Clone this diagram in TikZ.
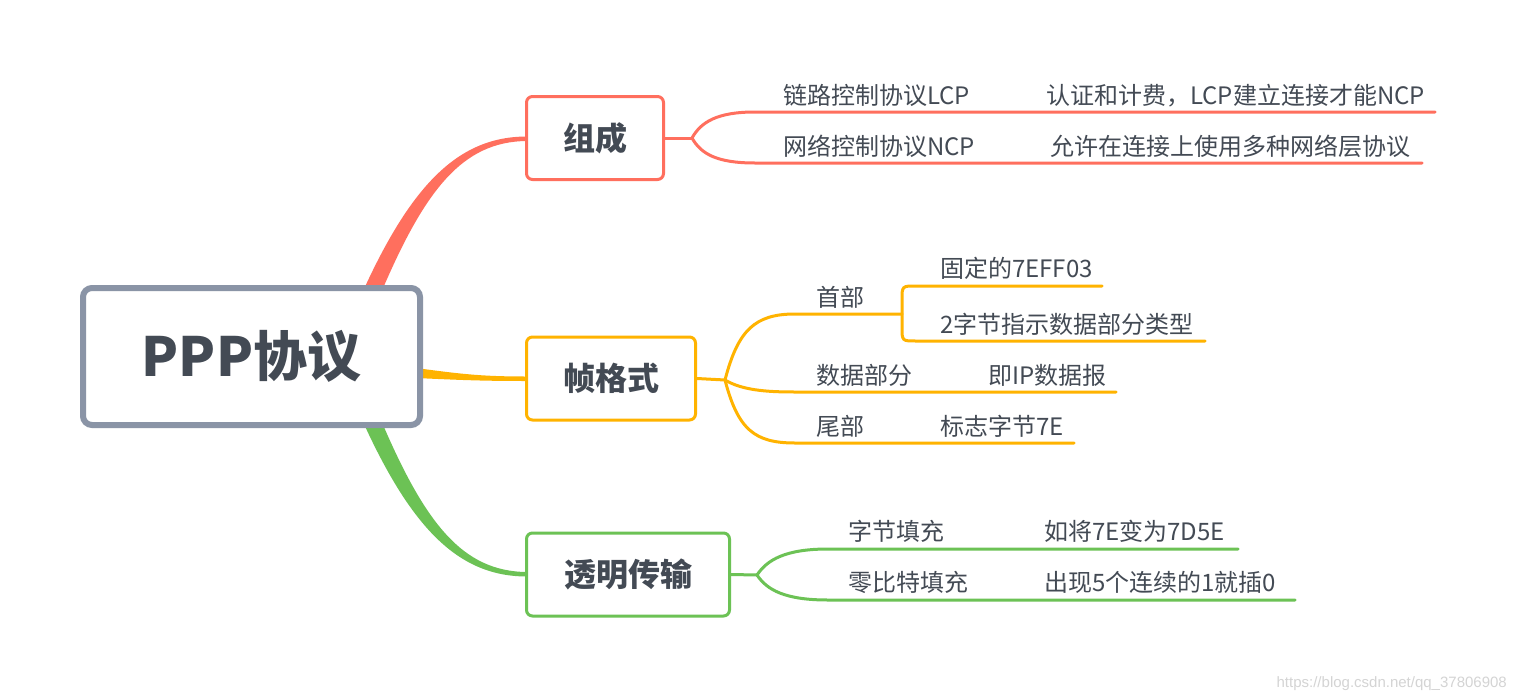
\documentclass[tikz,border=0pt]{standalone}
\usepackage{fontspec}
\setmainfont{Liberation Sans}
\newfontfamily\cjk{Noto Sans CJK SC}
\definecolor{redc}{HTML}{FF6F5E}
\definecolor{orac}{HTML}{FFB300}
\definecolor{grec}{HTML}{6CC255}
\definecolor{grayc}{HTML}{8A94A6}
\definecolor{textc}{HTML}{434A54}
\definecolor{wmc}{HTML}{D4D4D4}
\begin{document}
\begin{tikzpicture}[x=1pt,y=-1pt,
  rootbox/.style={draw=grayc, line width=6pt, rounded corners=9pt, fill=white,
    minimum width=337pt, minimum height=137pt, inner sep=0pt, text=textc,
    font=\cjk\bfseries\fontsize{54}{54}\selectfont},
  catbox/.style={line width=3pt, rounded corners=6pt, fill=white,
    minimum height=83pt, inner sep=0pt, text=textc,
    font=\cjk\bfseries\fontsize{32}{32}\selectfont},
  leaf/.style={anchor=base west, inner sep=0pt, text=textc,
    font=\cjk\fontsize{24}{24}\selectfont},
  branch/.style={line width=3pt, line cap=round, line join=round},
]
\useasboundingbox (0,0) rectangle (1515,699);
\fill[white] (0,0) rectangle (1515,699);

% tapered main connectors (drawn under the boxes)
\fill[redc] (359,300) .. controls (410,185) and (458,136.5) .. (527,136.5)
  -- (527,141) .. controls (462,141.5) and (424,190) .. (378,300) -- cycle;
\fill[orac] (405,366.5) .. controls (460,374) and (480,376.5) .. (527,376.5)
  -- (527,381) .. controls (480,381) and (460,380) .. (405,377.5) -- cycle;
\fill[grec] (359,413) .. controls (410,528) and (458,576.5) .. (527,576.5)
  -- (527,572) .. controls (462,571.5) and (424,523) .. (378,413) -- cycle;

% boxes
\node[rootbox] (root) at (251.5,356.5) {PPP协议};
\node[catbox, draw=redc, minimum width=137pt] (zc) at (595,138) {组成};
\node[catbox, draw=orac, minimum width=169pt] (zg) at (611,378.5) {帧格式};
\node[catbox, draw=grec, minimum width=203pt] (tm) at (628,574.5) {透明传输};

% ---- 组成 branch
\coordinate (f1) at (692,138);
\coordinate (a1) at (755,112); \coordinate (a1e) at (1435,112);
\coordinate (b1) at (755,163); \coordinate (b1e) at (1422,163);
\draw[redc, branch] (zc.east) -- (f1);
\draw[redc, branch] (f1) .. controls (701,122) and (717,112) .. (a1) -- (a1e);
\draw[redc, branch] (f1) .. controls (701,154) and (717,163) .. (b1) -- (b1e);
\node[leaf] (t11) at (783,104) {链路控制协议LCP};
\node[leaf] (t12) at (1046,104) {认证和计费，LCP建立连接才能NCP};
\node[leaf] (t21) at (783,155) {网络控制协议NCP};
\node[leaf] (t22) at (1050,155) {允许在连接上使用多种网络层协议};

% ---- 帧格式 branch
\coordinate (f2) at (725,380);
\coordinate (h1) at (795,314); \coordinate (h1e) at (902,314);
\coordinate (h2) at (795,392); \coordinate (h2e) at (1116,392);
\coordinate (h3) at (795,443); \coordinate (h3e) at (1074,443);
\coordinate (hu) at (1102,286); \coordinate (hd) at (1205,341);
\draw[orac, branch] (zg.east) -- (f2);
\draw[orac, branch] (f2) .. controls (738,330) and (755,314) .. (h1) -- (h1e);
\draw[orac, branch] (f2) .. controls (742,390) and (765,392) .. (h2) -- (h2e);
\draw[orac, branch] (f2) .. controls (738,430) and (755,443) .. (h3) -- (h3e);
\draw[orac, branch] (hu) -- (916,286) .. controls (902,286) .. (902,300)
  -- (902,327) .. controls (902,341) .. (916,341) -- (hd);
\node[leaf] (s1) at (816,306) {首部};
\node[leaf] (s11) at (940,277) {固定的7EFF03};
\node[leaf] (s12) at (940,333) {2字节指示数据部分类型};
\node[leaf] (s2) at (816,384) {数据部分};
\node[leaf] (s21) at (988,384) {即IP数据报};
\node[leaf] (s3) at (816,435) {尾部};
\node[leaf] (s31) at (940,435) {标志字节7E};

% ---- 透明传输 branch
\coordinate (f3) at (757,575);
\coordinate (c1) at (828,549); \coordinate (c1e) at (1238,549);
\coordinate (c2) at (828,600); \coordinate (c2e) at (1295,600);
\draw[grec, branch] (tm.east) -- (f3);
\draw[grec, branch] (f3) .. controls (767,560) and (785,549) .. (c1) -- (c1e);
\draw[grec, branch] (f3) .. controls (767,590) and (785,600) .. (c2) -- (c2e);
\node[leaf] (u1) at (848,540) {字节填充};
\node[leaf] (u11) at (1044,540) {如将7E变为7D5E};
\node[leaf] (u2) at (848,591) {零比特填充};
\node[leaf] (u21) at (1044,591) {出现5个连续的1就插0};

% watermark
\node[anchor=base east, inner sep=0pt, text=wmc, font=\fontsize{15}{15}\selectfont] (wm) at (1507,687) {https://blog.csdn.net/qq\_37806908};
\end{tikzpicture}
\end{document}
